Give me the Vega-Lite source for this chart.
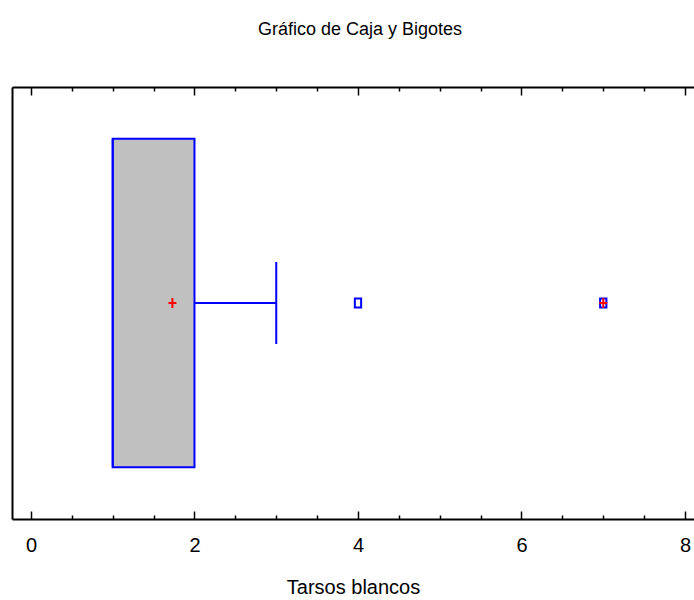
{
  "$schema": "https://vega.github.io/schema/vega-lite/v6.json",
  "width": 682,
  "height": 432,
  "autosize": {"type": "none"},
  "padding": {"left": 12, "top": 87, "right": 0, "bottom": 81},
  "background": "white",
  "config": {
    "view": {"stroke": null},
    "font": "Liberation Sans, Arial, sans-serif"
  },
  "title": {
    "text": "Gráfico de Caja y Bigotes",
    "anchor": "middle",
    "fontSize": 18,
    "fontWeight": "normal",
    "color": "black",
    "offset": 47,
    "dx": 7
  },
  "datasets": {
    "box": [{"q1": 1, "q3": 2, "median": 1, "whiskerHi": 3, "mean": 1.73}],
    "outliers": [{"value": 4, "kind": "outside"}, {"value": 7, "kind": "far outside"}]
  },
  "layer": [
    {
      "data": {"name": "box"},
      "mark": {"type": "rect", "fill": "#c0c0c0", "stroke": "#0000ff", "strokeWidth": 2},
      "encoding": {
        "x": {
          "field": "q1", "type": "quantitative",
          "scale": {"domain": [-0.232, 8.11], "nice": false, "zero": false},
          "axis": {
            "orient": "bottom",
            "values": [0, 2, 4, 6, 8],
            "format": "d",
            "grid": false,
            "domainColor": "black",
            "domainWidth": 2,
            "tickColor": "black",
            "tickWidth": 1.5,
            "tickSize": -8,
            "labelPadding": 24,
            "labelFontSize": 20,
            "labelColor": "black",
            "labelFlush": false,
            "title": "Tarsos blancos",
            "titleFontSize": 20,
            "titleFontWeight": "normal",
            "titleColor": "black",
            "titlePadding": 22
          }
        },
        "x2": {"field": "q3"},
        "y": {
          "datum": 0.12, "type": "quantitative",
          "scale": {"domain": [0, 1], "nice": false, "zero": false},
          "axis": {"orient": "left", "domainColor": "black", "domainWidth": 2, "ticks": false, "labels": false, "grid": false, "title": null}
        },
        "y2": {"datum": 0.88}
      }
    },
    {
      "data": {"name": "box"},
      "mark": {"type": "rule", "stroke": "#0000ff", "strokeWidth": 2},
      "encoding": {
        "x": {"field": "q3", "type": "quantitative", "axis": null},
        "x2": {"field": "whiskerHi"},
        "y": {"datum": 0.5, "type": "quantitative"}
      }
    },
    {
      "data": {"name": "box"},
      "mark": {"type": "rule", "stroke": "#0000ff", "strokeWidth": 2},
      "encoding": {
        "x": {"field": "whiskerHi", "type": "quantitative", "axis": null},
        "y": {"datum": 0.405, "type": "quantitative"},
        "y2": {"datum": 0.595}
      }
    },
    {
      "data": {"name": "box"},
      "mark": {"type": "rule", "stroke": "#0000ff", "strokeWidth": 2},
      "encoding": {
        "x": {"field": "median", "type": "quantitative", "axis": null},
        "y": {"datum": 0.12, "type": "quantitative"},
        "y2": {"datum": 0.88}
      }
    },
    {
      "data": {"name": "box"},
      "mark": {"type": "point", "shape": "M-0.8,0L0.8,0M0,-1L0,1", "size": 100, "stroke": "#ff0000", "strokeWidth": 2, "filled": false, "opacity": 1},
      "encoding": {
        "x": {"field": "mean", "type": "quantitative", "axis": null},
        "y": {"datum": 0.5, "type": "quantitative"}
      }
    },
    {
      "data": {"name": "outliers"},
      "mark": {"type": "point", "shape": "M-0.7,-1L0.7,-1L0.7,1L-0.7,1Z", "size": 81, "stroke": "#0000ff", "strokeWidth": 2, "filled": false, "opacity": 1},
      "encoding": {
        "x": {"field": "value", "type": "quantitative", "axis": null},
        "y": {"datum": 0.5, "type": "quantitative"}
      }
    },
    {
      "data": {"name": "outliers"},
      "transform": [{"filter": "datum.kind === 'far outside'"}],
      "mark": {"type": "point", "shape": "M-0.8,0L0.8,0M0,-1L0,1", "size": 100, "stroke": "#ff0000", "strokeWidth": 2, "filled": false, "opacity": 1},
      "encoding": {
        "x": {"field": "value", "type": "quantitative", "axis": null},
        "y": {"datum": 0.5, "type": "quantitative"}
      }
    },
    {
      "data": {"name": "box"},
      "mark": {"type": "rule", "stroke": "black", "strokeWidth": 2},
      "encoding": {
        "x": {
          "datum": 0, "type": "quantitative",
          "axis": {
            "orient": "bottom",
            "values": [0.5, 1, 1.5, 2.5, 3, 3.5, 4.5, 5, 5.5, 6.5, 7, 7.5],
            "labels": false,
            "grid": false,
            "domain": false,
            "tickColor": "black",
            "tickWidth": 1.5,
            "tickSize": -4,
            "title": null
          }
        },
        "opacity": {"value": 0}
      }
    },
    {
      "data": {"name": "box"},
      "mark": {"type": "rule", "stroke": "black", "strokeWidth": 2},
      "encoding": {
        "x": {
          "datum": 0, "type": "quantitative",
          "axis": {
            "orient": "top",
            "values": [0, 2, 4, 6, 8],
            "labels": false,
            "grid": false,
            "domainColor": "black",
            "domainWidth": 2,
            "tickColor": "black",
            "tickWidth": 1.5,
            "tickSize": -8,
            "title": null
          }
        },
        "opacity": {"value": 0}
      }
    },
    {
      "data": {"name": "box"},
      "mark": {"type": "rule", "stroke": "black", "strokeWidth": 2},
      "encoding": {
        "x": {
          "datum": 0, "type": "quantitative",
          "axis": {
            "orient": "top",
            "values": [0.5, 1, 1.5, 2.5, 3, 3.5, 4.5, 5, 5.5, 6.5, 7, 7.5],
            "labels": false,
            "grid": false,
            "domain": false,
            "tickColor": "black",
            "tickWidth": 1.5,
            "tickSize": -4,
            "title": null
          }
        },
        "opacity": {"value": 0}
      }
    }
  ],
  "resolve": {"axis": {"x": "independent"}}
}
